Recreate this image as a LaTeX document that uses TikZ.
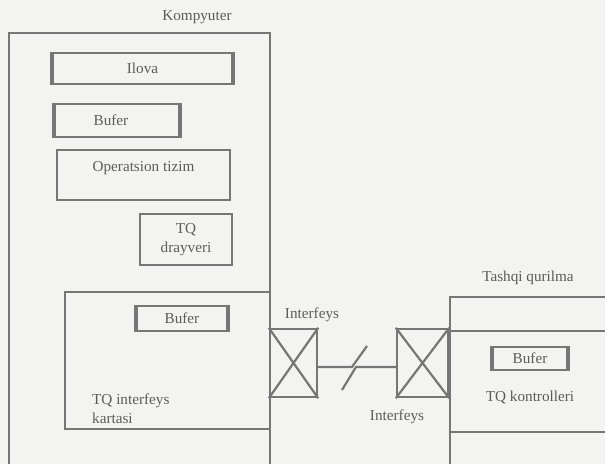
\documentclass[tikz,border=0pt]{standalone}
\usepackage{fontspec}
\setmainfont{Liberation Serif}
\usepackage{tikz}
\usetikzlibrary{positioning, calc}
\definecolor{scanbg}{RGB}{243,243,241}
\definecolor{scanln}{RGB}{118,118,118}
\definecolor{scantx}{RGB}{92,92,92}
\tikzset{
  partbox/.style = {draw=scanln, line width=1.2pt, rectangle, inner sep=0pt,
                    text=scantx, align=center, font=\fontsize{7.6}{9.5}\selectfont},
  xbox/.style    = {partbox, minimum height=34pt},
  sidebar/.style = {draw=scanln, line width=2.2pt},
  lbl/.style     = {text=scantx, align=center, font=\fontsize{7.6}{9.5}\selectfont},
  link/.style    = {draw=scanln, line width=1.1pt},
}

\begin{document}
\begin{tikzpicture}[x=0.5pt, y=-0.5pt]
    \useasboundingbox[fill=scanbg] (0,0) rectangle (605,464);
    % Kompyuter
    \node[lbl] (kompl) at (197,17) {Kompyuter};
    \node[partbox, minimum width=130.5pt, minimum height=223.5pt] (komp) at (139.5,256.5) {};
    \node[partbox, minimum width=89.5pt, minimum height=15.5pt] (ilova) at (142.5,68.5) {Ilova};
    \node[partbox, minimum width=62pt, minimum height=16.5pt] (buf1) at (117,120.5) {\hspace*{-6pt}Bufer};
    \node[partbox, minimum width=86.5pt, minimum height=25pt,
          label={[lbl, anchor=north, inner sep=6pt]north:Operatsion tizim}] (otizim) at (143.5,175) {};
    \node[partbox, minimum width=46pt, minimum height=25.5pt] (drayv) at (186,239.5) {TQ\\drayveri};
    \node[partbox, minimum width=102.5pt, minimum height=68.5pt,
          label={[lbl, align=left, anchor=south west, inner sep=3pt, xshift=11pt]south west:TQ interfeys\\kartasi}] (karta) at (167.5,360.5) {};
    \node[partbox, minimum width=45pt, minimum height=12.5pt] (buf2) at (182,318.5) {Bufer};
    % Interfeys
    \node[xbox, minimum width=23.5pt] (if1) at (293.5,363) {};
    \node[xbox, minimum width=25.5pt] (if2) at (422.5,363) {};
    \node[lbl] (ifl1) at (312,315) {Interfeys};
    \node[lbl] (ifl2) at (397,417) {Interfeys};
    \foreach \x in {if1,if2}
      \draw[link] (\x.north west) -- (\x.south east) (\x.north east) -- (\x.south west);
    \coordinate (zz1) at (352,367);
    \coordinate (zz2) at (367,346);
    \coordinate (zz3) at (342,390);
    \coordinate (zz4) at (356,367);
    \draw[link] (if1.east |- zz1) -- (zz1) -- (zz2);
    \draw[link] (zz3) -- (zz4) -- (if2.west |- zz4);
    % Tashqi qurilma
    \node[lbl] (tql) at (528,278) {Tashqi qurilma};
    \node[partbox, minimum width=85pt, minimum height=91.5pt] (tashqi) at (535,388.5) {};
    \node[partbox, minimum width=85pt, minimum height=50.5pt] (kontr) at (535,381.5) {};
    \node[partbox, minimum width=37pt, minimum height=11.5pt] (buf3) at (530,358.5) {Bufer};
    \node[lbl] (kontrl) at (530,397) {TQ kontrolleri};
    % side bars
    \foreach \b in {ilova,buf1,buf2,buf3}
      \draw[sidebar] (\b.north west) -- (\b.south west) (\b.north east) -- (\b.south east);
  \end{tikzpicture}
\end{document}
